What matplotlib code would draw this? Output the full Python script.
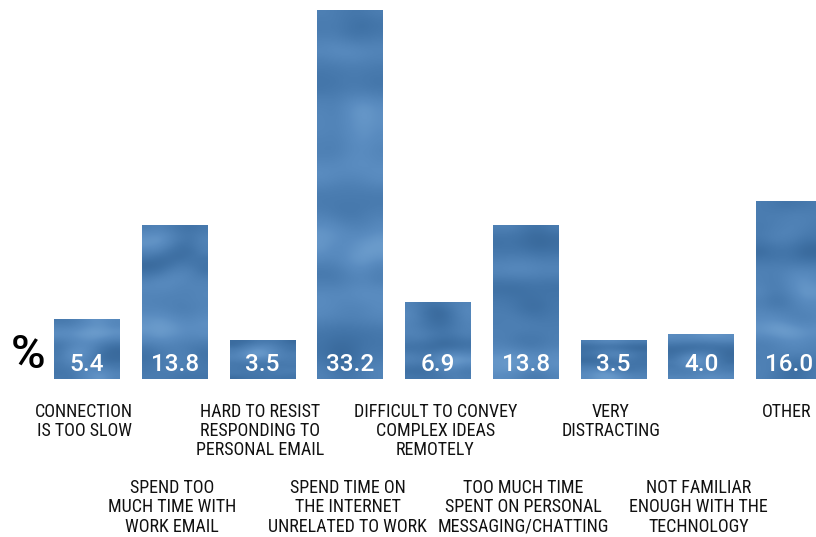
import numpy as np
import matplotlib.pyplot as plt
from matplotlib.colors import LinearSegmentedColormap

# categorias e valores (%)
categorias = [
    "CONNECTION\nIS TOO SLOW",
    "SPEND TOO\nMUCH TIME WITH\nWORK EMAIL",
    "HARD TO RESIST\nRESPONDING TO\nPERSONAL EMAIL",
    "SPEND TIME ON\nTHE INTERNET\nUNRELATED TO WORK",
    "DIFFICULT TO CONVEY\nCOMPLEX IDEAS\nREMOTELY",
    "TOO MUCH TIME\nSPENT ON PERSONAL\nMESSAGING/CHATTING",
    "VERY\nDISTRACTING",
    "NOT FAMILIAR\nENOUGH WITH THE\nTECHNOLOGY",
    "OTHER",
]
valores = [5.4, 13.8, 3.5, 33.2, 6.9, 13.8, 3.5, 4.0, 16.0]

fonte = ["Roboto Condensed", "PT Sans Narrow", "DejaVu Sans"]

fig = plt.figure(figsize=(8.16, 5.37), dpi=100)
ax = fig.add_axes([0, 158 / 537, 1, 379 / 537])

x = np.arange(len(valores))
barras = ax.bar(x, valores, width=0.75, color="#4677ab", linewidth=0)

# textura azul suave dentro das barras
azul = LinearSegmentedColormap.from_list("azul", ["#2c5a8a", "#4274a8", "#5a8cc0", "#86b4de"])
rng = np.random.default_rng(11)
for i, b in enumerate(barras):
    ruido = rng.random((int(b.get_height() * 1.5) + 6, 6))
    for _ in range(4):
        ruido = (ruido + np.roll(ruido, 1, 0) + np.roll(ruido, -1, 0)
                 + np.roll(ruido, 1, 1) + np.roll(ruido, -1, 1)) / 5
    ruido = (ruido - ruido.min()) / (ruido.max() - ruido.min() + 1e-9)
    x0, w, h = b.get_x(), b.get_width(), b.get_height()
    ax.imshow(ruido * 0.6 + 0.2, cmap=azul, vmin=0, vmax=1, aspect="auto",
              interpolation="bicubic", extent=(x0, x0 + w, 0, h), zorder=2)

# valores dentro das barras
for i, v in enumerate(valores):
    ax.annotate(f"{v:.1f}", xy=(x[i], 0), xytext=(0, 2.5), textcoords="offset points",
                ha="center", va="bottom", color="white", fontsize=17.5,
                fontweight="medium", family=["Roboto", "DejaVu Sans"], zorder=3)

# rotulos em duas linhas alternadas
for i, rot in enumerate(categorias):
    desloc = -17 if i % 2 == 0 else -72
    ax.annotate(rot, xy=(x[i], 0), xytext=(-2, desloc), textcoords="offset points",
                ha="center", va="top", fontsize=13, family=fonte,
                linespacing=1.1, color="#111111", annotation_clip=False)

fig.text(11 / 816, (537 - 377) / 537, "%", fontsize=34, fontweight="medium",
         family=["Roboto", "DejaVu Sans"], ha="left", va="bottom", color="black")

ax.set_xlim(-87 / 87.75, (816 - 87) / 87.75)
ax.set_ylim(0, 379 / 11.1)
ax.axis("off")

fig.savefig("out.png", dpi=100)
